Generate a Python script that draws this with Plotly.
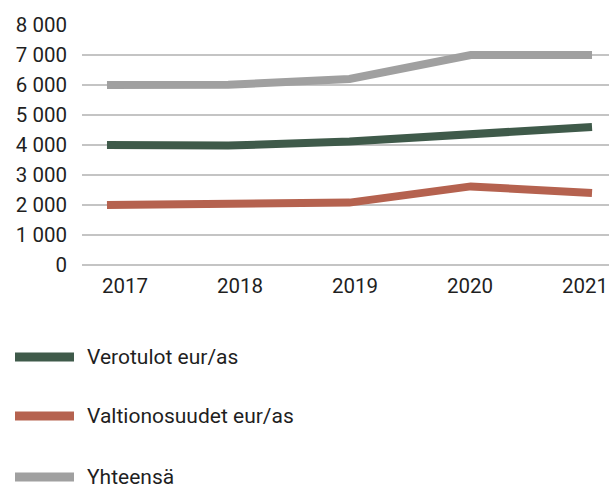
import plotly.graph_objects as go

years = ["2017", "2018", "2019", "2020", "2021"]
verotulot = [4000, 3980, 4120, 4380, 4600]
valtionosuudet = [2000, 2030, 2080, 2620, 2400]
yhteensa = [6000, 6010, 6200, 7000, 7000]
series_names = ["Verotulot eur/as", "Valtionosuudet eur/as", "Yhteensä"]
series_colors = ["#3f5a4a", "#b5624f", "#a0a0a0"]
y_ticks = [0, 1000, 2000, 3000, 4000, 5000, 6000, 7000, 8000]

FONT = "Roboto, Arial, sans-serif"
TXT = "#1f1f1f"

fig = go.Figure()
for name, vals, col in zip(series_names, [verotulot, valtionosuudet, yhteensa], series_colors):
    fig.add_trace(go.Scatter(
        x=years, y=vals, mode="lines", name=name,
        line=dict(color=col, width=8, shape="linear"),
        showlegend=False, hoverinfo="skip", xaxis="x", yaxis="y",
    ))
# helper trace for label axis
fig.add_trace(go.Scatter(x=years, y=[None] * len(years), mode="lines",
                         showlegend=False, hoverinfo="skip", xaxis="x2", yaxis="y"))

# manual legend
plot_w = 527
plot_h = 240
rows_y = [357, 416, 477]
for name, col, py in zip(series_names, series_colors, rows_y):
    yp = (265 - py) / plot_h
    fig.add_shape(type="line", xref="paper", yref="paper",
                  x0=(15 - 82) / plot_w, x1=(74 - 82) / plot_w, y0=yp, y1=yp,
                  line=dict(color=col, width=9))
    fig.add_annotation(xref="paper", yref="paper", x=(85 - 82) / plot_w, y=yp,
                       text=name, showarrow=False, xanchor="left", yanchor="middle",
                       font=dict(family=FONT, size=21, color=TXT))

fig.update_layout(
    width=609, height=487,
    margin=dict(l=82, r=0, t=25, b=222),
    paper_bgcolor="white", plot_bgcolor="white",
    separators=", ",
    font=dict(family=FONT, size=20, color=TXT),
    xaxis=dict(type="category", range=[-0.206, 4.14], showticklabels=False,
               showgrid=False, zeroline=False, showline=False, ticks=""),
    xaxis2=dict(type="category", overlaying="x", anchor="y", side="bottom",
                range=[-0.374, 4.209], showgrid=False, zeroline=False, showline=False,
                ticks="", tickfont=dict(family=FONT, size=20.5, color=TXT),
                ticklabelstandoff=6),
    yaxis=dict(range=[0, 8000], tickvals=y_ticks, tickformat=",d",
               showgrid=True, gridcolor="#c4c4c4", gridwidth=1.5,
               zeroline=True, zerolinecolor="#c4c4c4", zerolinewidth=1.5,
               showline=False, ticks="", ticklabelstandoff=14,
               tickfont=dict(family=FONT, size=20.5, color=TXT)),
)

fig.write_html("out.html", config={"displayModeBar": False},
               post_script="document.body.style.margin='0';")
